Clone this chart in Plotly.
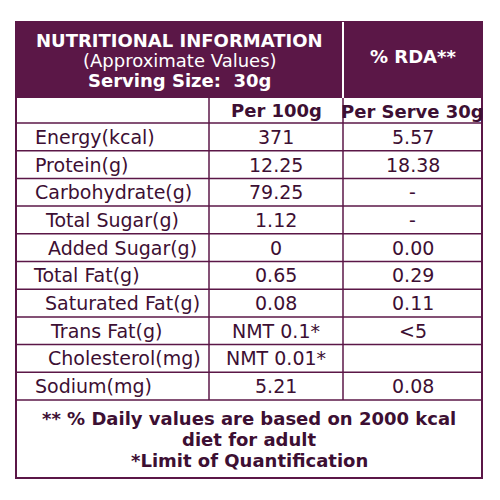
import plotly.graph_objects as go

# table content
nutrients = ["Energy(kcal)", "Protein(g)", "Carbohydrate(g)", "Total Sugar(g)", "Added Sugar(g)",
             "Total Fat(g)", "Saturated Fat(g)", "Trans Fat(g)", "Cholesterol(mg)", "Sodium(mg)"]
indent = [0, 0, 0, 10, 13, -2, 10, 15, 13, 0]
per_100g = ["371", "12.25", "79.25", "1.12", "0", "0.65", "0.08", "NMT 0.1*", "NMT 0.01*", "5.21"]
per_serve = ["5.57", "18.38", "-", "-", "0.00", "0.29", "0.11", "<5", "", "0.08"]
header_lines = ["NUTRITIONAL INFORMATION", "(Approximate Values)", "Serving Size:  30g"]
footer_lines = ["** % Daily values are based on 2000 kcal", "diet for adult", "*Limit of Quantification"]

PURPLE = "#5b1747"
INK = "#3d0f33"
FONT = "DejaVu Sans"

L, R, T, B = 16, 482, 22, 478
C1, C2 = 209, 343
H1, H2, F = 98, 123, 400
rh = (F - H2) / len(nutrients)

fig = go.Figure()
shapes = [
    dict(type="rect", x0=L, x1=R, y0=T, y1=H1, fillcolor=PURPLE, line=dict(width=0)),
    dict(type="rect", x0=L, x1=R, y0=T, y1=B, line=dict(color=PURPLE, width=2)),
    dict(type="line", x0=C2, x1=C2, y0=T, y1=H1, line=dict(color="white", width=2)),
    dict(type="line", x0=C1, x1=C1, y0=H1, y1=F, line=dict(color=PURPLE, width=1.5)),
    dict(type="line", x0=C2, x1=C2, y0=H1, y1=F, line=dict(color=PURPLE, width=1.5)),
]
for i in range(len(nutrients) + 1):
    y = H2 + i * rh
    shapes.append(dict(type="line", x0=L, x1=R, y0=y, y1=y, line=dict(color=PURPLE, width=1.5)))

ann = []
def txt(x, y, s, size=20, bold=False, color=INK, anchor="center"):
    ann.append(dict(x=x, y=y, text=f"<b>{s}</b>" if bold else s, showarrow=False, xanchor=anchor,
                    yanchor="middle", font=dict(family=FONT, size=size, color=color)))

hx = (L + C2) / 2
txt(hx, 40, header_lines[0], 18, True, "white")
txt(hx, 60, header_lines[1], 18, False, "white")
txt(hx, 80, header_lines[2], 18, True, "white")
txt((C2 + R) / 2, 56, "% RDA**", 18, True, "white")
txt((C1 + C2) / 2, H1 + 12, "Per 100g", 18, True)
txt((C2 + R) / 2, H1 + 13, "Per Serve 30g", 18, True)
for i, name in enumerate(nutrients):
    y = H2 + (i + 0.5) * rh
    txt(33 + indent[i], y, name, 19, anchor="left")
    txt((C1 + C2) / 2, y, per_100g[i], 19)
    txt((C2 + R) / 2, y, per_serve[i], 19)
for j, s in enumerate(footer_lines):
    txt((L + R) / 2, 418 + j * 21, s, 18, True)

# page body has an 8px margin, so shift the axes range to compensate
fig.update_layout(width=500, height=500, margin=dict(l=0, r=0, t=0, b=0),
                  plot_bgcolor="white", paper_bgcolor="white", shapes=shapes, annotations=ann,
                  xaxis=dict(range=[8, 508], visible=False),
                  yaxis=dict(range=[508, 8], visible=False), showlegend=False)
fig.write_html("out.html")
